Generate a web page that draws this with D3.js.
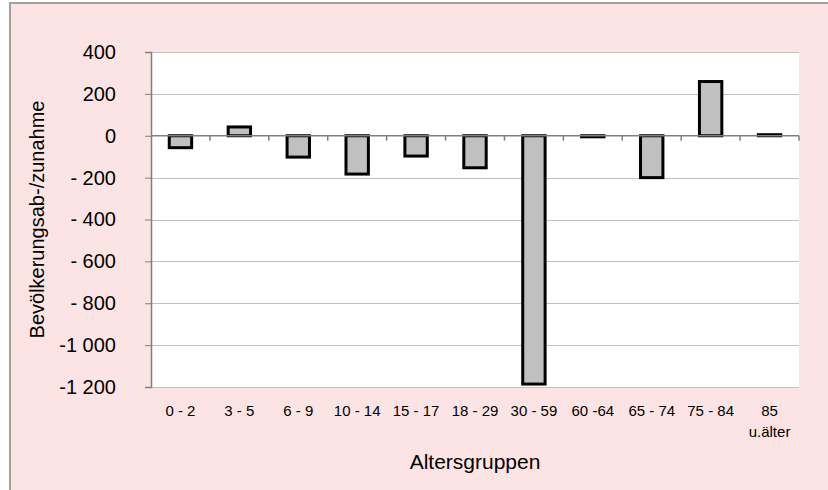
<!DOCTYPE html>
<html><head><meta charset="utf-8">
<script src="https://cdn.jsdelivr.net/npm/d3@7"></script>
<style>body{margin:0;background:#fff;}svg{display:block;font-family:"Liberation Sans",Arial,sans-serif;}</style>
</head><body>
<svg id="c" width="828" height="490"></svg>
<script>
const categories = ["0 - 2","3 - 5","6 - 9","10 - 14","15 - 17","18 - 29","30 - 59","60 -64","65 - 74","75 - 84","85|u.älter"];
const values = [-57, 42, -102, -183, -97, -153, -1186, -5, -200, 259, 5];
const yTicks = [400, 200, 0, -200, -400, -600, -800, -1000, -1200];
const yTickLabels = ["400","200","0","- 200","- 400","- 600","- 800","-1 000","-1 200"];
const yTitle = "Bevölkerungsab-/zunahme";
const xTitle = "Altersgruppen";

const svg = d3.select("#c");
const L = 151, R = 799, T = 52, B = 387;

svg.append("rect").attr("x",10).attr("y",3).attr("width",830).attr("height",500)
  .attr("fill","#fde4e4").attr("stroke","#a0a0a0").attr("stroke-width",2);
svg.append("rect").attr("x",L).attr("y",T).attr("width",R-L).attr("height",B-T).attr("fill","#fff");

const y = d3.scaleLinear().domain([-1200,400]).range([B,T]);
const x = d3.scaleBand().domain(categories).range([L,R]).paddingInner(0.62).paddingOuter(0.31);
const step = x.step();
const bw = x.bandwidth();

// gridlines
svg.append("g").selectAll("line").data(yTicks.filter(v=>v!==0)).join("line")
  .attr("x1",L).attr("x2",R).attr("y1",d=>Math.round(y(d))+0.5).attr("y2",d=>Math.round(y(d))+0.5)
  .attr("stroke","#c0c0c0").attr("stroke-width",1);

// y axis
const yAxis = d3.axisLeft(y).tickValues(yTicks).tickSize(6).tickPadding(29)
  .tickFormat(d=>yTickLabels[yTicks.indexOf(d)]);
const ya = svg.append("g").attr("transform",`translate(${L},0)`).call(yAxis);
ya.attr("font-size",20).attr("font-family","Liberation Sans, Arial, sans-serif");
ya.select(".domain").attr("stroke","#808080").attr("stroke-width",1.5);
ya.selectAll(".tick line").attr("stroke","#808080");
ya.selectAll(".tick text").attr("fill","#000");

// bars
svg.append("g").selectAll("rect").data(values).join("rect")
  .attr("x",(d,i)=>x(categories[i]))
  .attr("width",bw)
  .attr("y",d=>y(Math.max(0,d)))
  .attr("height",d=>Math.abs(y(d)-y(0)))
  .attr("fill","#c0c0c0").attr("stroke","#000").attr("stroke-width",3);

// zero axis with category boundary ticks
const z = svg.append("g").attr("transform",`translate(0,${y(0)})`);
z.append("line").attr("x1",L).attr("x2",R).attr("stroke","#808080").attr("stroke-width",1.5);
z.selectAll("line.t").data(categories).join("line").attr("class","t")
  .attr("x1",d=>x(d)+bw+(step-bw)/2)
  .attr("x2",d=>x(d)+bw+(step-bw)/2)
  .attr("y1",0).attr("y2",5).attr("stroke","#808080").attr("stroke-width",1.5);

// category labels
svg.append("g").selectAll("text").data(categories).join("text")
  .attr("y",416).attr("text-anchor","middle").attr("font-size",15).attr("fill","#000")
  .each(function(d){
    const cx = x(d)+bw/2;
    d3.select(this).selectAll("tspan").data(d.split("|")).join("tspan")
      .attr("x",cx).attr("dy",(p,j)=>j===0?0:21).text(p=>p);
  });

// titles
svg.append("text").attr("transform",`translate(44,${(T+B)/2}) rotate(-90)`)
  .attr("text-anchor","middle").attr("font-size",20).attr("fill","#000").text(yTitle);
svg.append("text").attr("x",(L+R)/2).attr("y",469).attr("text-anchor","middle")
  .attr("font-size",21).attr("fill","#000").text(xTitle);
</script>
</body></html>
